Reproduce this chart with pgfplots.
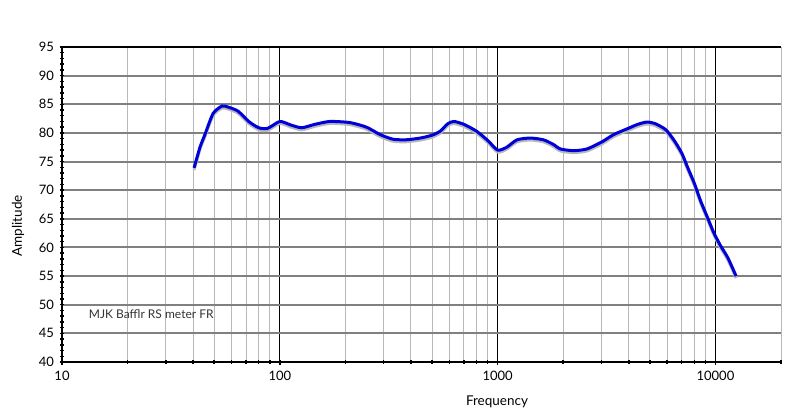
\documentclass[border=0pt]{standalone}
\usepackage{fontspec}
\setmainfont{Lato}
\usepackage{pgfplots}
\pgfplotsset{compat=1.18}
\pgfplotstableread{
f y
40.4 73.9
43 77.5
45.4 79.8
49.4 83.4
54.3 84.7
58 84.5
64.3 83.8
72 82.0
80 80.9
88 80.8
100 82.0
112 81.4
126 80.9
145 81.5
170 82.0
210 81.8
250 81.0
289 79.7
331 78.9
380 78.8
441 79.1
500 79.6
545 80.3
590 81.6
630 82.0
700 81.5
800 80.3
900 78.7
1000 77.0
1100 77.5
1228 78.8
1413 79.1
1622 78.8
1800 78.0
1941 77.2
2233 76.9
2572 77.2
3000 78.4
3407 79.7
3924 80.7
4400 81.5
4853 81.9
5300 81.6
5900 80.6
6433 78.8
7000 76.5
7410 74.2
8000 71.2
8535 68.2
9200 65.2
9820 62.6
10520 60.4
11400 58.2
12440 55.0
}\datatable
\begin{document}
\begin{tikzpicture}
\begin{axis}[
  name=ax,
  scale only axis,
  width=719pt, height=315pt,
  xmode=log, xmin=10, xmax=20000,
  ymin=40, ymax=95,
  ytick={40,45,...,95},
  minor y tick num=4,
  xtick={10,100,1000,10000},
  xticklabels={10,100,1000,10000},
  minor xtick={20,30,40,50,60,70,80,90,200,300,400,500,600,700,800,900,2000,3000,4000,5000,6000,7000,8000,9000,20000},
  xtick pos=bottom, ytick pos=left,
  axis line style={draw=none},
  xmajorgrids, xminorgrids, ymajorgrids,
  major x grid style={black, line width=1pt},
  minor x grid style={black!28, line width=1pt},
  major y grid style={black!50, line width=2pt},
  tick align=center,
  major tick length=5pt,
  minor tick length=3.5pt,
  tick style={black, line width=1.5pt},
  minor tick style={black, line width=1.5pt},
  ticklabel style={font=\fontsize{13}{15}\selectfont},
  /pgf/number format/assume math mode=true,
  xticklabel style={yshift=-3pt},
  yticklabel style={xshift=-2pt},
  clip=false,
]
\addplot[no markers, smooth, tension=0.4, black!28, line width=3pt, yshift=-2pt] table[x=f, y=y] {\datatable};
\addplot[no markers, smooth, tension=0.4, blue!85!black, line width=3pt] table[x=f, y=y] {\datatable};
\draw[black, line width=2.5pt] (rel axis cs:1,1) -- (rel axis cs:0,1) -- (rel axis cs:0,0) -- (rel axis cs:1,0);
\node[anchor=west, font=\fontsize{12}{14}\selectfont, black!80] at (axis cs:12.8,48.4) {MJK Bafflr RS meter FR};
\node[font=\fontsize{13.5}{15}\selectfont] at ([yshift=-40pt]rel axis cs:0.605,0) {Frequency};
\node[rotate=90, font=\fontsize{13.5}{15}\selectfont] at ([xshift=-44pt]rel axis cs:0,0.433) {Amplitude};
\end{axis}
\pgfresetboundingbox
\path ([shift={(-62pt,-56pt)}]ax.south west) rectangle ([shift={(18pt,47pt)}]ax.north east);
\end{tikzpicture}
\end{document}
